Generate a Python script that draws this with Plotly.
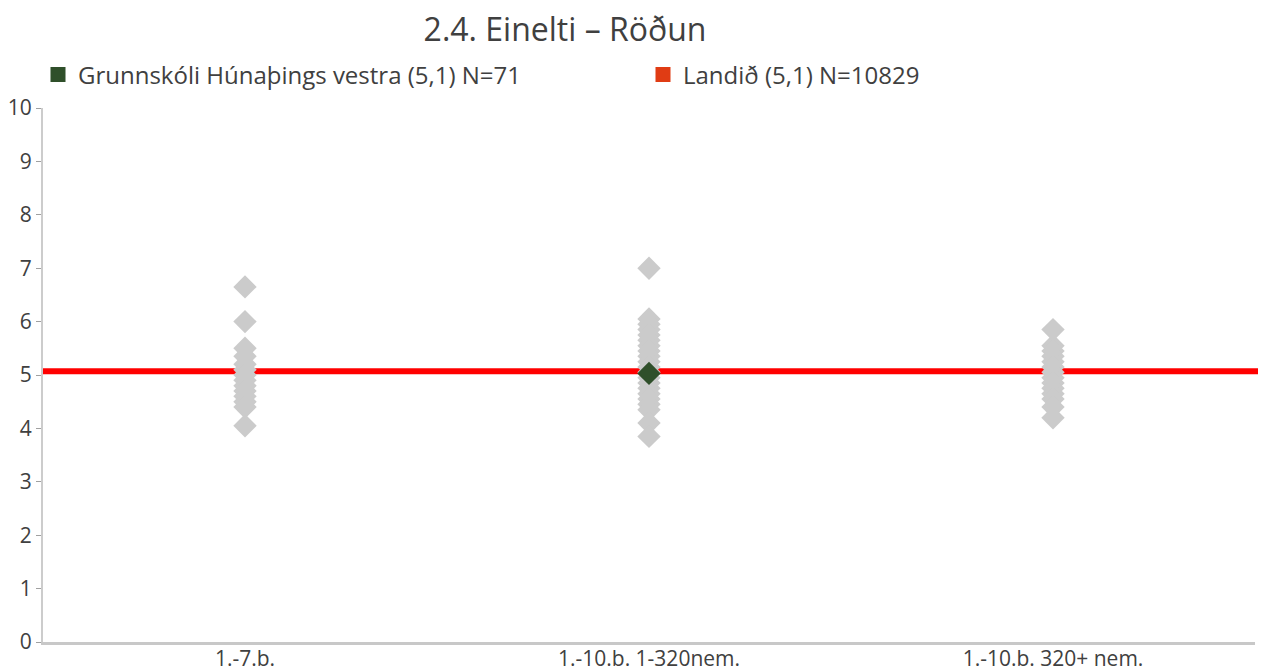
import plotly.graph_objects as go

categories = ["1.-7.b.", "1.-10.b. 1-320nem.", "1.-10.b. 320+ nem."]

schools_cat1 = [6.65, 6.0, 5.5, 5.35, 5.2, 5.1, 5.0, 4.9, 4.8, 4.7, 4.6, 4.5, 4.4, 4.05]
schools_cat2 = [7.0, 6.05, 5.95, 5.85, 5.75, 5.65, 5.55, 5.45, 5.35, 5.25, 5.15, 5.05,
                4.95, 4.85, 4.75, 4.65, 4.55, 4.45, 4.35, 4.1, 3.85]
schools_cat3 = [5.85, 5.55, 5.45, 5.35, 5.25, 5.15, 5.05, 4.95, 4.85, 4.75, 4.65,
                4.55, 4.4, 4.2]

school_name = "Grunnskóli Húnaþings vestra (5,1) N=71"
school_category = "1.-10.b. 1-320nem."
school_value = 5.03

national_name = "Landið (5,1) N=10829"
national_value = 5.07

title = "2.4. Einelti – Röðun"
y_ticks = list(range(0, 11))

FONT = "Open Sans"
TXT = "#404040"
GREY = "#CBCBCB"
GREEN = "#2F4F2A"
LEGEND_RED = "#E03C14"
LINE_RED = "#FF0000"

# page has an 8px body margin; figure sized so plot lands where the reference has it
W, H = 1258, 663
L, R, T, B = 35, 11, 100, 29
PW, PH = W - L - R, H - T - B

fig = go.Figure()

for cat, vals in zip(categories, [schools_cat1, schools_cat2, schools_cat3]):
    fig.add_trace(go.Scatter(
        x=[cat] * len(vals), y=vals, mode="markers",
        marker=dict(symbol="diamond", size=18, color=GREY, line=dict(width=0)),
        showlegend=False, hoverinfo="y"))

fig.add_trace(go.Scatter(
    x=[school_category], y=[school_value], mode="markers",
    marker=dict(symbol="diamond", size=18, color=GREEN, line=dict(width=0)),
    showlegend=False))

# legend-only entries with square symbols
fig.add_trace(go.Scatter(x=[None], y=[None], mode="markers", name=school_name,
                         legend="legend",
                         marker=dict(symbol="square", size=15, color=GREEN)))
fig.add_trace(go.Scatter(x=[None], y=[None], mode="markers", name=national_name,
                         legend="legend2",
                         marker=dict(symbol="square", size=15, color=LEGEND_RED)))

fig.add_shape(type="line", xref="paper", x0=0, x1=1 + 5 / PW, yref="y",
              y0=national_value, y1=national_value,
              line=dict(color=LINE_RED, width=6), layer="below")

leg_y = 1 + (T - 67) / PH
legend_common = dict(orientation="h", xanchor="left", y=leg_y, yanchor="middle",
                     itemwidth=30, bgcolor="rgba(0,0,0,0)",
                     font=dict(family=FONT, size=24, color=TXT))

fig.update_layout(
    width=W, height=H,
    paper_bgcolor="white", plot_bgcolor="white",
    margin=dict(l=L, r=R, t=T, b=B),
    title=dict(text=title, x=557 / W, xanchor="center", y=1 - 22 / H, yanchor="middle",
               font=dict(family=FONT, size=32, color=TXT)),
    font=dict(family=FONT, size=20, color=TXT),
    legend=dict(x=(42 - 12 - L) / PW, **legend_common),
    legend2=dict(x=(647 - 12 - L) / PW, **legend_common),
    xaxis=dict(type="category", categoryorder="array", categoryarray=categories,
               range=[-0.5, 2.5], showgrid=False, zeroline=False,
               showline=True, linecolor="#C8C8C8", linewidth=3,
               ticks="", ticklabelstandoff=-4,
               tickfont=dict(family=FONT, size=21, color=TXT),
               automargin=False, fixedrange=True),
    yaxis=dict(range=[0, 10], tickvals=y_ticks, showgrid=False, zeroline=False,
               showline=True, linecolor="#CCCCCC", linewidth=2,
               ticks="outside", ticklen=5, tickcolor="#A0A0A0", ticklabelstandoff=0,
               tickfont=dict(family=FONT, size=21, color=TXT),
               automargin=False, fixedrange=True),
)

fig.write_html("out.html")
